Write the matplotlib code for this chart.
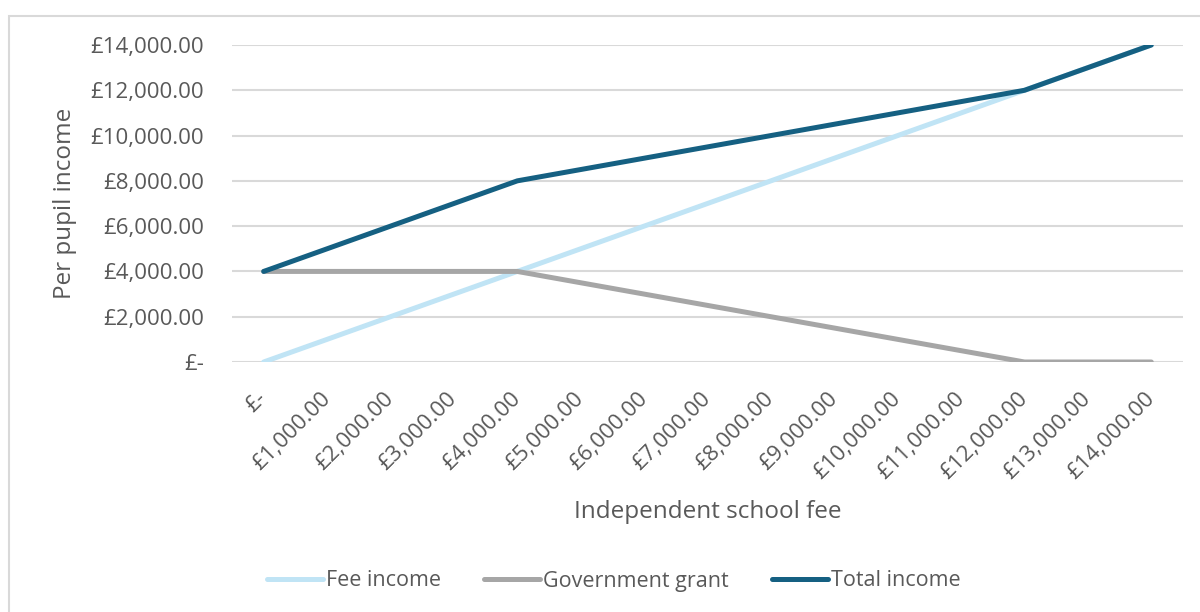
import matplotlib.pyplot as plt
from matplotlib.patches import Rectangle
from matplotlib.ticker import FuncFormatter

plt.rcParams['font.family'] = ['Open Sans', 'DejaVu Sans']

# school fee categories and per-pupil income components
fees = [0, 1000, 2000, 3000, 4000, 5000, 6000, 7000, 8000, 9000,
        10000, 11000, 12000, 13000, 14000]
fee_income = [0, 1000, 2000, 3000, 4000, 5000, 6000, 7000, 8000, 9000,
              10000, 11000, 12000, 13000, 14000]
government_grant = [4000, 4000, 4000, 4000, 4000, 3500, 3000, 2500, 2000,
                    1500, 1000, 500, 0, 0, 0]
total_income = [4000, 5000, 6000, 7000, 8000, 8500, 9000, 9500, 10000,
                10500, 11000, 11500, 12000, 13000, 14000]

text_color = '#595959'
grid_color = '#D9D9D9'


def money(v, pos=None):
    if v == 0:
        return '£-'
    return '£{:,.2f}'.format(v)


fig = plt.figure(figsize=(12, 6.12), dpi=100)
fig.patches.append(Rectangle((9 / 1200, -0.1), 1.2, 1.1 - 16 / 612,
                             transform=fig.transFigure, fill=False,
                             edgecolor=grid_color, linewidth=1.5))

ax = fig.add_axes([232 / 1200, 1 - 362 / 612, (1183 - 232) / 1200, (362 - 45) / 612])
x = list(range(len(fees)))

ax.plot(x, fee_income, color='#C0E4F5', linewidth=3.6, label='Fee income',
        solid_capstyle='round', solid_joinstyle='round')
ax.plot(x, government_grant, color='#A6A6A6', linewidth=3.6, label='Government grant',
        solid_capstyle='round', solid_joinstyle='round')
ax.plot(x, total_income, color='#156082', linewidth=3.6, label='Total income',
        solid_capstyle='round', solid_joinstyle='round')

ax.set_xlim(-0.5, len(fees) - 0.5)
ax.set_ylim(0, 14000)
ax.set_yticks(range(0, 14001, 2000))
ax.yaxis.set_major_formatter(FuncFormatter(money))
ax.set_xticks(x)
ax.set_xticklabels([money(f) for f in fees], rotation=45, ha='right',
                   va='center', rotation_mode='anchor')

for s in ax.spines.values():
    s.set_visible(False)
ax.grid(axis='y', color=grid_color, linewidth=1.5)
ax.set_axisbelow(True)
ax.tick_params(axis='both', length=0, labelsize=16, colors=text_color)
ax.tick_params(axis='y', pad=20)
ax.tick_params(axis='x', pad=24)

ax.set_ylabel('Per pupil income', fontsize=17.5, color=text_color, labelpad=10)
ax.set_xlabel('Independent school fee', fontsize=17.5, color=text_color, labelpad=12)

fig.legend(loc='center', bbox_to_anchor=(614 / 1200, 1 - 581 / 612), ncol=3,
           frameon=False, fontsize=15.5, labelcolor=text_color,
           handlelength=2.6, handletextpad=0.15, columnspacing=2.0)

fig.savefig('out.png', dpi=100)
